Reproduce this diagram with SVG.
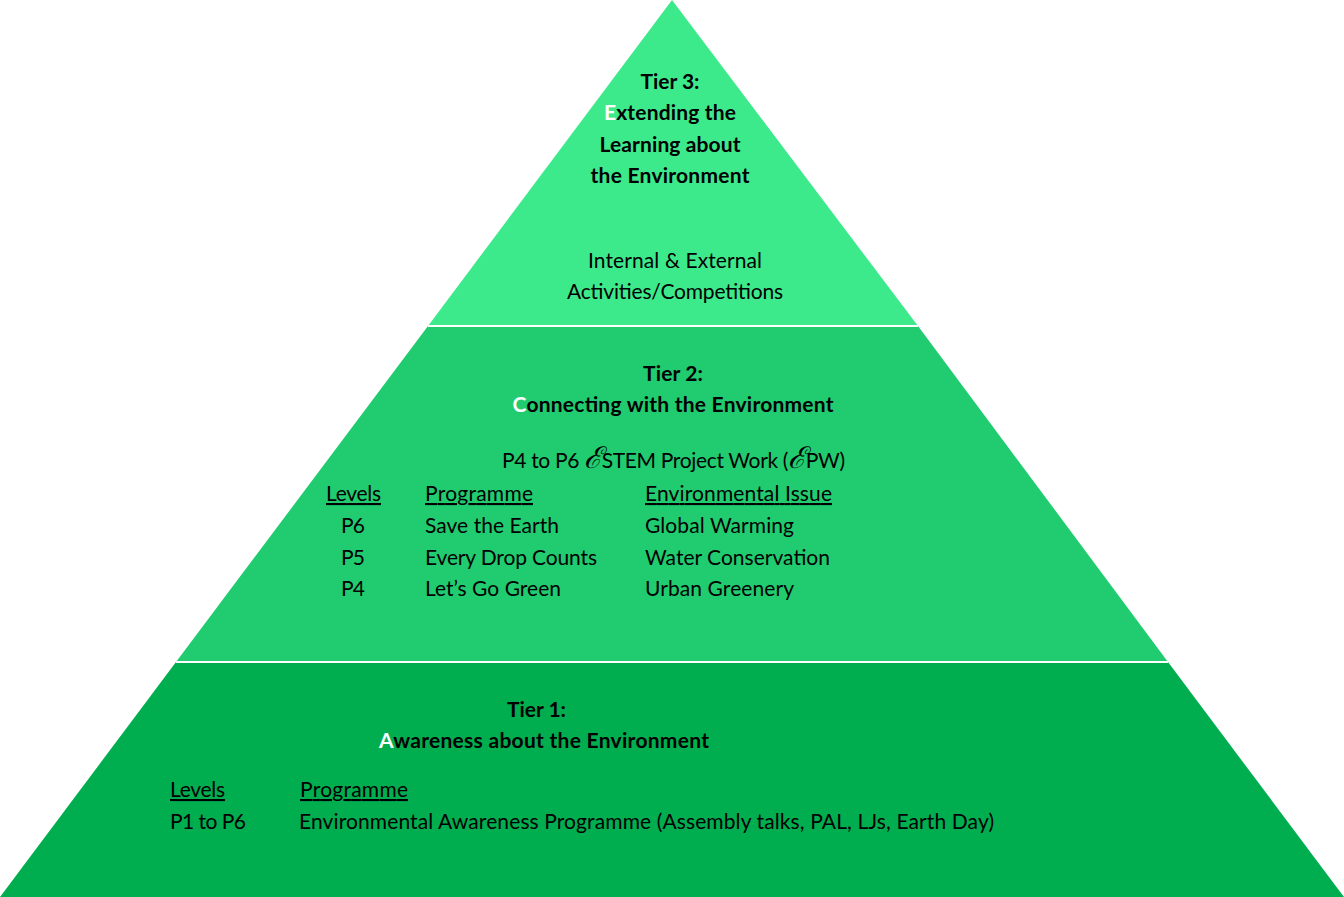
<svg xmlns="http://www.w3.org/2000/svg" width="1344" height="897" viewBox="0 0 1344 897">
<style>
text{font-family:Lato,"Liberation Sans",sans-serif;font-size:21px;fill:#000}
.b{font-weight:bold}
.m{text-anchor:middle}
.u{text-decoration:underline}
.w{fill:#fff}
.scr{font-family:"DejaVu Serif",serif;font-style:italic;font-size:30px}
.sep{stroke:#fff;stroke-width:2}
</style>
<rect width="1344" height="897" fill="#fff"/>
<g id="tier3">
<polygon points="672,0 918,326 428,326" fill="#3DEA8B"/>
<text class="b m" x="670" y="89" textLength="59">Tier 3:</text>
<text class="b m" x="670" y="120" textLength="132"><tspan class="w">E</tspan>xtending the</text>
<text class="b m" x="670" y="152" textLength="141">Learning about</text>
<text class="b m" x="670" y="183" textLength="159">the Environment</text>
<text class="m" x="675" y="268" textLength="174">Internal &amp; External</text>
<text class="m" x="675" y="299" textLength="216">Activities/Competitions</text>
</g>
<g id="tier2">
<polygon points="428,326 918,326 1168,662 176,662" fill="#20CC6F"/>
<text class="b m" x="673" y="381" textLength="60">Tier 2:</text>
<text class="b m" x="673" y="412" textLength="321"><tspan class="w">C</tspan>onnecting with the Environment</text>
<text x="502" y="468" textLength="343">P4 to P6 <tspan class="scr">ℰ</tspan>STEM Project Work (<tspan class="scr">ℰ</tspan>PW)</text>
<text class="u" x="326" y="501" textLength="55">Levels</text>
<text class="u" x="425" y="501" textLength="108">Programme</text>
<text class="u" x="645" y="501" textLength="187">Environmental Issue</text>
<text x="341" y="533" textLength="24">P6</text>
<text x="425" y="533" textLength="134">Save the Earth</text>
<text x="645" y="533" textLength="149">Global Warming</text>
<text x="341" y="565" textLength="24">P5</text>
<text x="425" y="565" textLength="172">Every Drop Counts</text>
<text x="645" y="565" textLength="185">Water Conservation</text>
<text x="341" y="596" textLength="24">P4</text>
<text x="425" y="596" textLength="136">Let’s Go Green</text>
<text x="645" y="596" textLength="149">Urban Greenery</text>
</g>
<g id="tier1">
<polygon points="176,662 1168,662 1344,897 0,897" fill="#00AE50"/>
<text class="b" x="507" y="717" textLength="59">Tier 1:</text>
<text class="b" x="379" y="748" textLength="330"><tspan class="w">A</tspan>wareness about the Environment</text>
<text class="u" x="170" y="797" textLength="55">Levels</text>
<text class="u" x="300" y="797" textLength="108">Programme</text>
<text x="170" y="829" textLength="76">P1 to P6</text>
<text x="299" y="829" textLength="695">Environmental Awareness Programme (Assembly talks, PAL, LJs, Earth Day)</text>
</g>
<g id="connectors">
<line class="sep" x1="428" y1="326" x2="918" y2="326"/>
<line class="sep" x1="176" y1="662" x2="1168" y2="662"/>
</g>
</svg>
